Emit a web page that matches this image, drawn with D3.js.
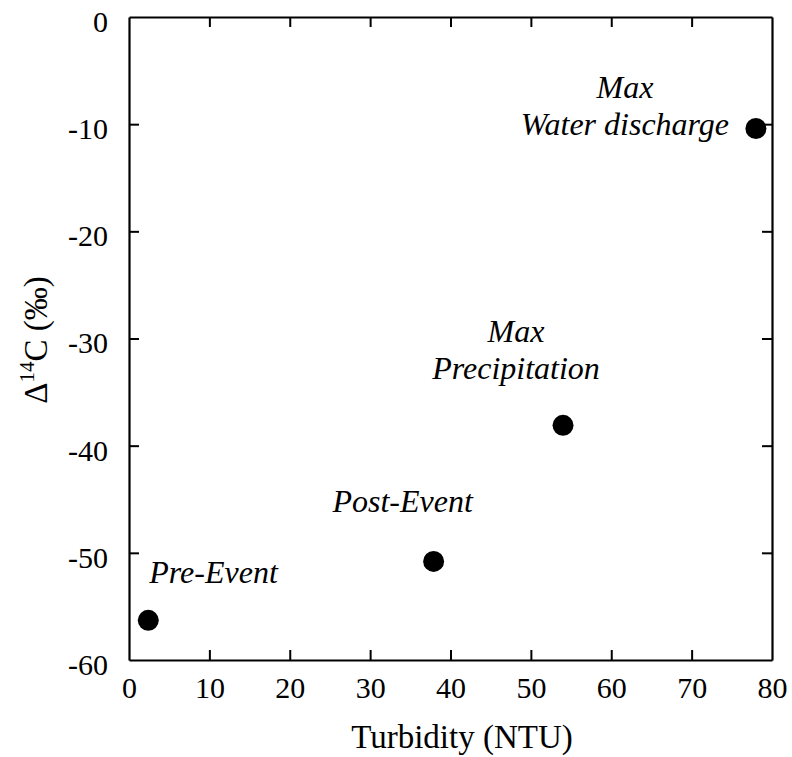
<!DOCTYPE html>
<html>
<head>
<meta charset="utf-8">
<script src="https://cdn.jsdelivr.net/npm/d3@7"></script>
<style>
  html, body { margin: 0; padding: 0; background: #fff; }
  svg { display: block; }
  text { font-family: "Liberation Serif", "Times New Roman", serif; fill: #000; }
</style>
</head>
<body>
<svg id="chart" width="792" height="757"></svg>
<script>
const labels = ["Pre-Event", "Post-Event", "Max\nPrecipitation", "Max\nWater discharge"];
const turbidity = [2.4, 37.9, 54.0, 78.0];
const delta14C = [-56.3, -50.8, -38.1, -10.4];
const xTicks = [0, 10, 20, 30, 40, 50, 60, 70, 80];
const yTicks = [0, -10, -20, -30, -40, -50, -60];

const svg = d3.select("#chart");
const mLeft = 129, mRight = 772, mTop = 17, mBottom = 660;

const x = d3.scaleLinear().domain([0, 80]).range([mLeft, mRight]);
const y = d3.scaleLinear().domain([-60, 0]).range([mBottom, mTop]);

const tickFont = 30;
const serif = "'Liberation Serif', 'Times New Roman', serif";

const gx = svg.append("g").attr("transform", `translate(0,${mBottom})`)
  .call(d3.axisBottom(x).tickValues(xTicks).tickSizeInner(-10).tickSizeOuter(0).tickPadding(17));
const gxTop = svg.append("g").attr("transform", `translate(0,${mTop})`)
  .call(d3.axisTop(x).tickValues(xTicks.slice(1, -1)).tickSizeInner(-10).tickSizeOuter(0).tickFormat(""));
const gy = svg.append("g").attr("transform", `translate(${mLeft},0)`)
  .call(d3.axisLeft(y).tickValues(yTicks).tickSizeInner(-10).tickSizeOuter(0).tickPadding(21).tickFormat(d3.format("d")));
const gyR = svg.append("g").attr("transform", `translate(${mRight},0)`)
  .call(d3.axisRight(y).tickValues(yTicks.slice(1, -1)).tickSizeInner(-10).tickSizeOuter(0).tickFormat(""));

[gx, gxTop, gy, gyR].forEach(g => {
  g.attr("font-family", serif);
  g.select(".domain").attr("stroke", "#000").attr("stroke-width", 2.2);
  g.selectAll(".tick line").attr("stroke", "#000").attr("stroke-width", 2);
  g.selectAll(".tick text").attr("font-size", tickFont)
    .attr("font-family", serif).attr("fill", "#000");
});
gx.selectAll(".tick").filter(d => d === 0 || d === 80).select("line").remove();
gy.selectAll(".tick").filter(d => d === 0 || d === -60).select("line").remove();
gy.selectAll(".tick text").attr("dy", "0.48em").text(d => String(d).replace("\u2212", "-"));

// points
svg.append("g").selectAll("circle")
  .data(turbidity.map((t, i) => ({ t, c: delta14C[i] })))
  .join("circle")
  .attr("cx", d => x(d.t)).attr("cy", d => y(d.c)).attr("r", 10.5).attr("fill", "#000");

// point labels (pixel offsets relative to each point, first-line baseline)
const labelFont = 32;
const lab = [
  { anchor: "start", dx: 1, dy: -37 },
  { anchor: "middle", dx: -31, dy: -49 },
  { anchor: "middle", dx: -47, dy: -83 },
  { anchor: "middle", dx: -131, dy: -30 }
];
labels.forEach((l, i) => {
  const lines = l.split("\n");
  const px = x(turbidity[i]) + lab[i].dx;
  const py = y(delta14C[i]) + lab[i].dy;
  const t = svg.append("text")
    .attr("font-family", serif)
    .attr("font-style", "italic").attr("font-size", labelFont)
    .attr("text-anchor", lab[i].anchor)
    .attr("x", px).attr("y", py);
  lines.forEach((ln, j) => {
    t.append("tspan").attr("x", px).attr("dy", j === 0 ? 0 : 37).text(ln);
  });
});

// axis titles
svg.append("text").attr("x", 462).attr("y", 748).attr("font-family", serif)
  .attr("text-anchor", "middle").attr("font-size", 33).text("Turbidity (NTU)");

const yt = svg.append("text").attr("transform", `translate(47,${340}) rotate(-90)`)
  .attr("font-family", serif)
  .attr("text-anchor", "middle").attr("font-size", 33);
yt.append("tspan").text("Δ");
yt.append("tspan").attr("font-size", 21).attr("dy", -13).text("14");
yt.append("tspan").attr("dy", 13).text("C (‰)");
</script>
</body>
</html>
